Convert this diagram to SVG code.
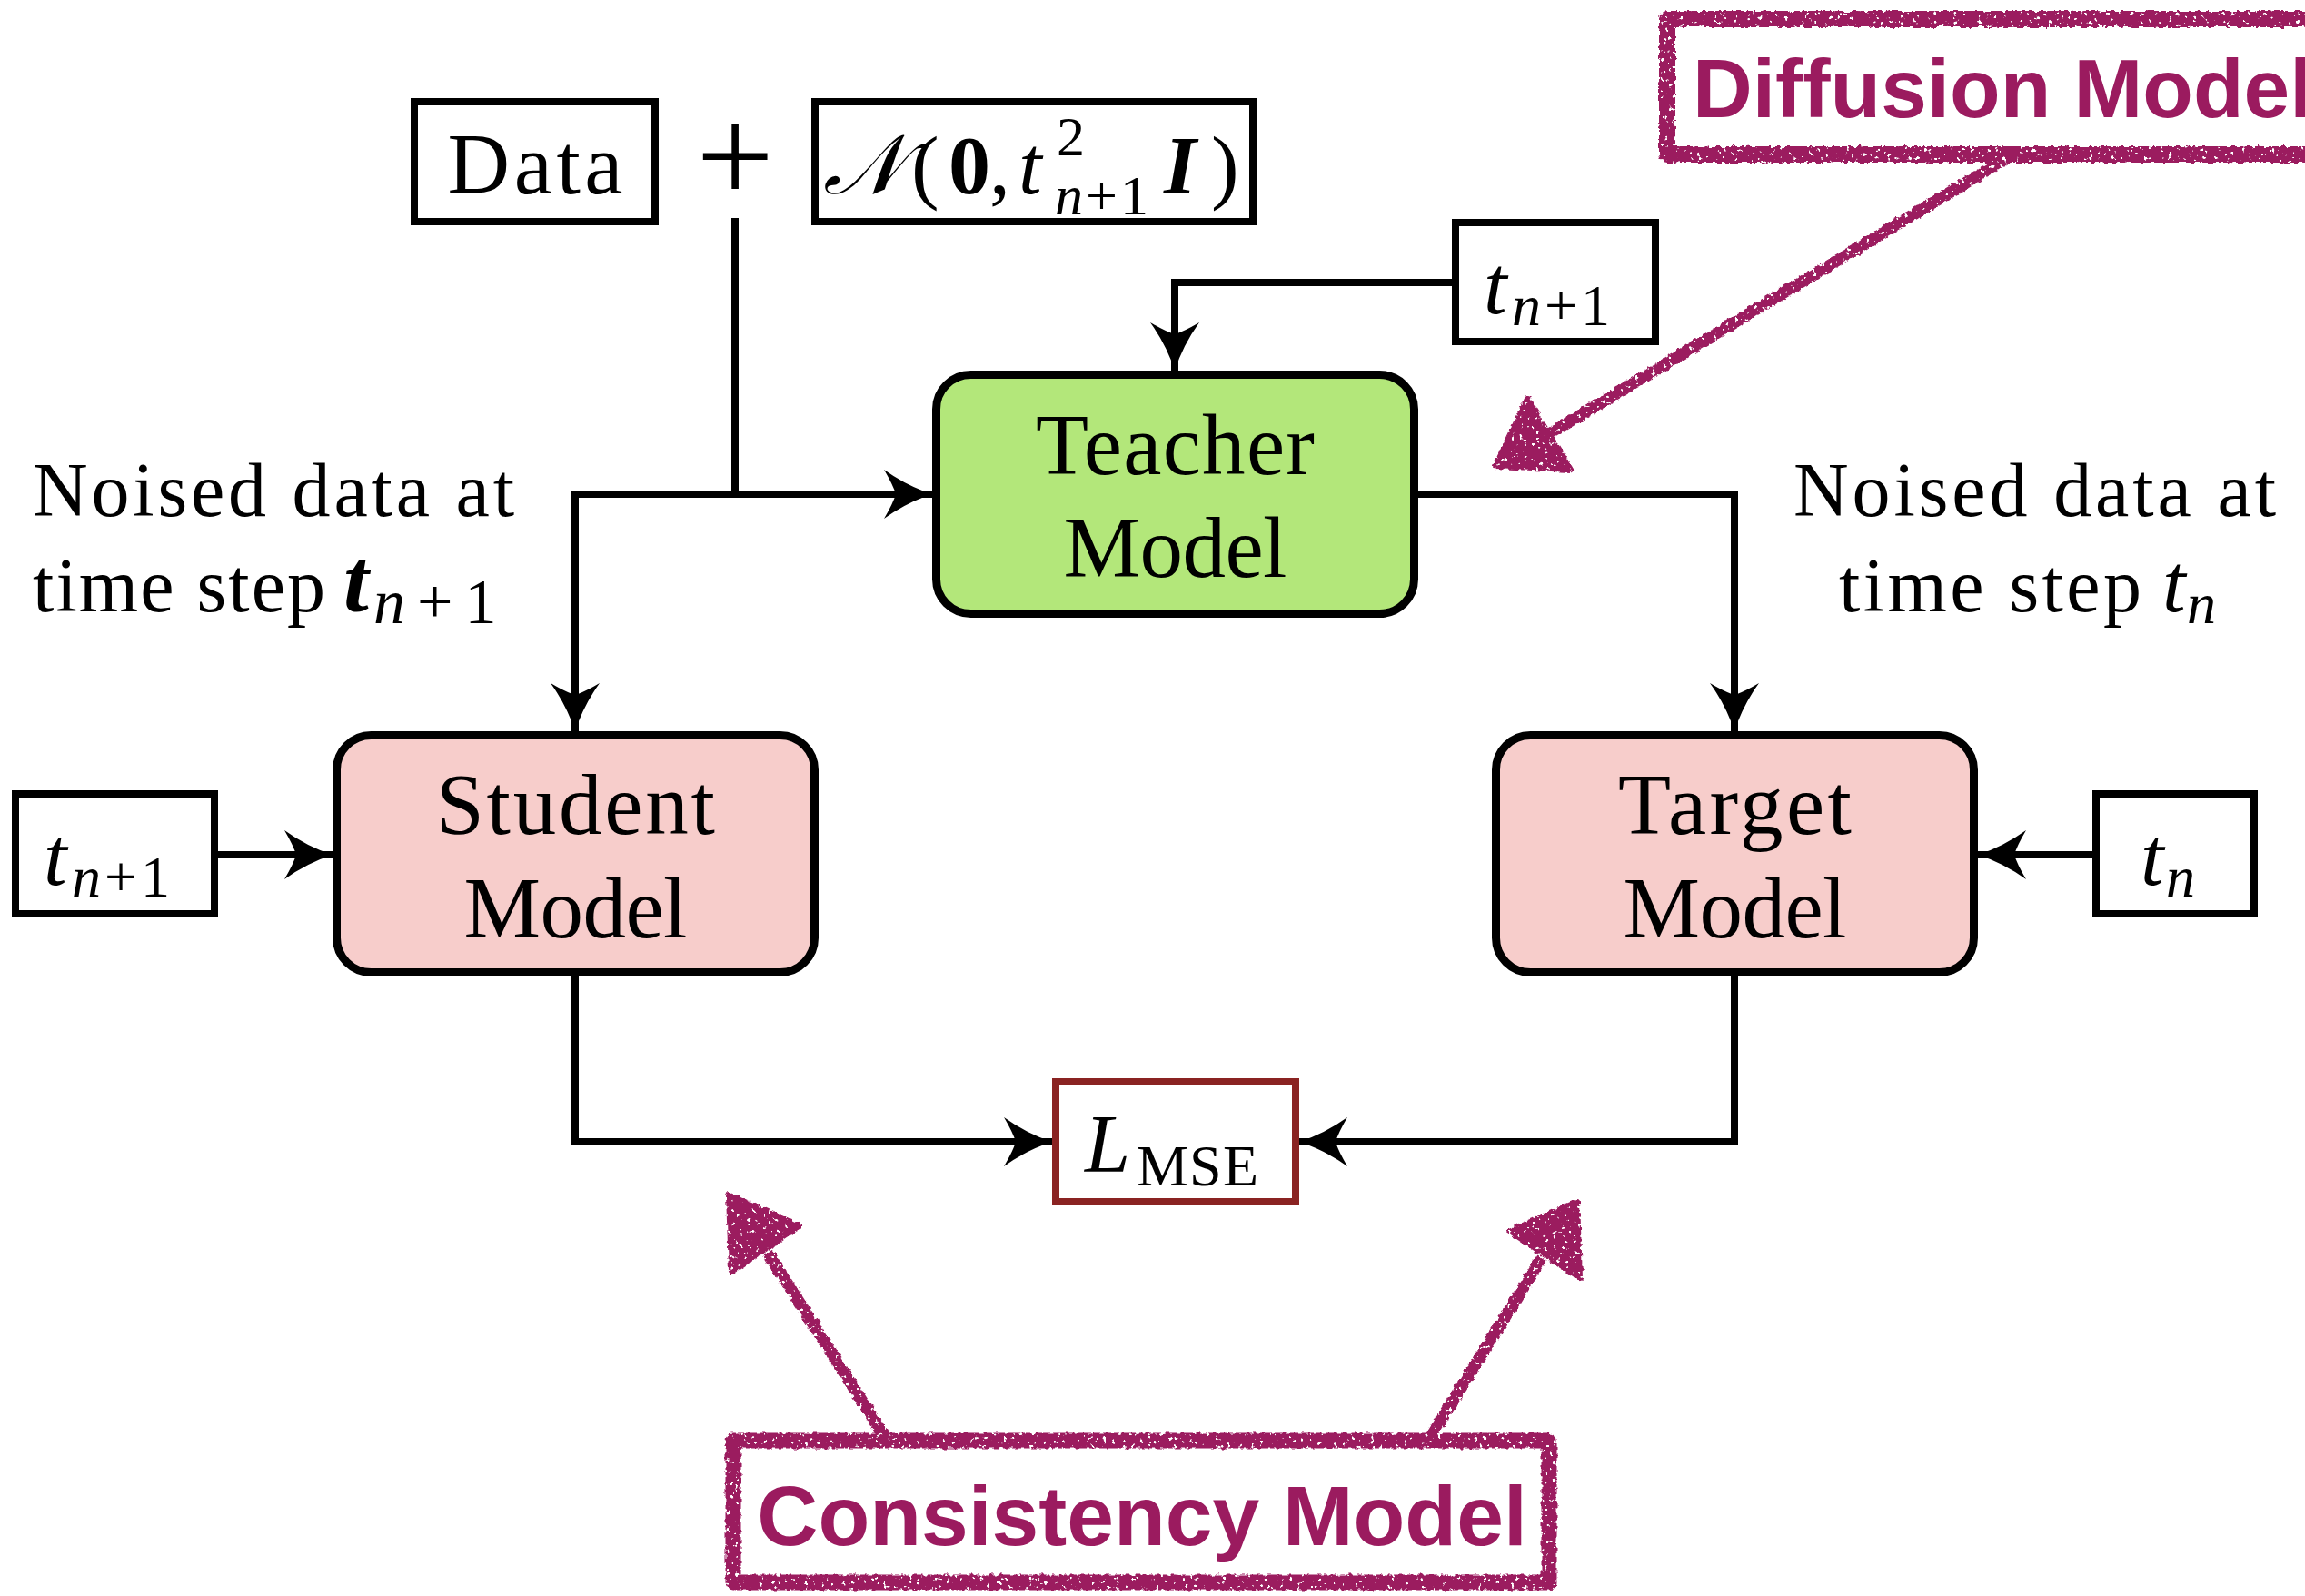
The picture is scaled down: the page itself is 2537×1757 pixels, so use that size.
<svg xmlns="http://www.w3.org/2000/svg" width="2537" height="1757" viewBox="0 0 2537 1757">
  <style>
    .box { fill: #ffffff; stroke: #000000; stroke-width: 8; }
    .model { stroke: #000000; stroke-width: 9; }
    .teacher { fill: #b3e77a; }
    .pink { fill: #f7cdcb; }
    .loss { fill: #ffffff; stroke: #8a2322; stroke-width: 8; }
    .wire { fill: none; stroke: #000000; stroke-width: 8; }
    .serif { font-family: "Liberation Serif", "Times New Roman", serif; fill: #000000; }
    .lbl { font-size: 95px; text-anchor: middle; }
    .note { font-size: 84px; }
    .it { font-style: italic; }
    .bf { font-weight: bold; }
    .ann { font-family: "Liberation Sans", Arial, sans-serif; font-weight: bold; fill: #9b1b5f; }
    .chalk { fill: #9b1b5f; stroke: #9b1b5f; stroke-linejoin: round; }
  </style>
  <defs>
    <marker id="head" markerUnits="userSpaceOnUse" viewBox="-56 -30 60 60" markerWidth="60" markerHeight="60" refX="0" refY="0" orient="auto-start-reverse" overflow="visible">
      <path d="M0,0 Q-28,-9 -53,-27 Q-43,-10 -40,0 Q-43,10 -53,27 Q-28,9 0,0 Z" fill="#000000"/>
    </marker>
    <!-- crayon look: wobbly edges plus sparse white flecks -->
    <filter id="rough" filterUnits="userSpaceOnUse" x="0" y="0" width="2537" height="1757">
      <feTurbulence type="fractalNoise" baseFrequency="0.18" numOctaves="2" seed="7" result="warp"/>
      <feDisplacementMap in="SourceGraphic" in2="warp" scale="6" xChannelSelector="R" yChannelSelector="G" result="wobbly"/>
      <feTurbulence type="fractalNoise" baseFrequency="0.22" numOctaves="2" seed="3" result="grain"/>
      <feColorMatrix in="grain" type="matrix" values="0 0 0 0 0  0 0 0 0 0  0 0 0 0 0  -16 0 0 0 11.6" result="holes"/>
      <feComposite in="wobbly" in2="holes" operator="in"/>
    </filter>
  </defs>

  <rect width="2537" height="1757" fill="#ffffff"/>

  <!-- connectors -->
  <g id="connectors">
    <path class="wire" d="M809,240 V544"/>
    <path class="wire" d="M1026,544 H633 V805" marker-end="url(#head)"/>
    <path class="wire" d="M633,544 H1026" marker-end="url(#head)"/>
    <path class="wire" d="M1598,311 H1293 V408" marker-end="url(#head)"/>
    <path class="wire" d="M1561,544 H1909 V805" marker-end="url(#head)"/>
    <path class="wire" d="M240,941 H366" marker-end="url(#head)"/>
    <path class="wire" d="M2303,941 H2177" marker-end="url(#head)"/>
    <path class="wire" d="M633,1075 V1257 H1158" marker-end="url(#head)"/>
    <path class="wire" d="M1909,1075 V1257 H1430" marker-end="url(#head)"/>
  </g>

  <!-- inputs -->
  <g id="data">
    <rect class="box" x="456" y="112" width="265" height="132"/>
    <text class="serif lbl" x="589" y="213" textLength="193">Data</text>
  </g>
  <g id="plus">
    <text class="serif" x="809" y="223" font-size="152" text-anchor="middle">+</text>
  </g>
  <g id="noise">
    <rect class="box" x="897" y="112" width="482" height="132"/>
    <g class="serif" font-size="92">
      <text class="it" x="906" y="213">𝒩</text>
      <text x="1003" y="213">(</text>
      <text class="bf" x="1044" y="213">0</text>
      <text x="1089" y="213">,</text>
      <text class="it" x="1121" y="213">t</text>
      <text x="1163" y="171" font-size="62">2</text>
      <text x="1161" y="236" font-size="62"><tspan class="it">n</tspan><tspan dx="3">+</tspan><tspan dx="3">1</tspan></text>
      <text class="it bf" x="1281" y="213">I</text>
      <text x="1333" y="213">)</text>
    </g>
  </g>
  <g id="t-teacher">
    <rect class="box" x="1602" y="245" width="220" height="131"/>
    <text class="serif it" x="1633" y="345" font-size="92">t</text>
    <text class="serif" x="1664" y="358" font-size="64"><tspan class="it">n</tspan><tspan dx="4">+</tspan><tspan dx="4">1</tspan></text>
  </g>
  <g id="t-student">
    <rect class="box" x="17" y="874" width="219" height="132"/>
    <text class="serif it" x="48" y="974" font-size="92">t</text>
    <text class="serif" x="79" y="987" font-size="64"><tspan class="it">n</tspan><tspan dx="4">+</tspan><tspan dx="4">1</tspan></text>
  </g>
  <g id="t-target">
    <rect class="box" x="2307" y="874" width="174" height="132"/>
    <text class="serif it" x="2356" y="974" font-size="92">t</text>
    <text class="serif it" x="2384" y="987" font-size="64">n</text>
  </g>

  <!-- models -->
  <g id="teacher">
    <rect class="model teacher" x="1030.5" y="412.5" width="526" height="263" rx="38"/>
    <text class="serif lbl" x="1293.5" y="522" textLength="307">Teacher</text>
    <text class="serif lbl" x="1293.5" y="635" textLength="246">Model</text>
  </g>
  <g id="student">
    <rect class="model pink" x="370.5" y="809.5" width="526" height="261" rx="38"/>
    <text class="serif lbl" x="633.5" y="918" textLength="307">Student</text>
    <text class="serif lbl" x="633.5" y="1032" textLength="246">Model</text>
  </g>
  <g id="target">
    <rect class="model pink" x="1646.5" y="809.5" width="526" height="261" rx="38"/>
    <text class="serif lbl" x="1909.5" y="918" textLength="257">Target</text>
    <text class="serif lbl" x="1909.5" y="1032" textLength="246">Model</text>
  </g>

  <g id="loss">
    <rect class="loss" x="1162" y="1191" width="264" height="132"/>
    <text class="serif it" x="1194" y="1290" font-size="90" fill="#8a2322">L</text>
    <text class="serif" x="1251" y="1305" font-size="64" fill="#8a2322" textLength="134">MSE</text>
  </g>

  <!-- side notes -->
  <g id="note-left" class="serif note">
    <text x="36" y="568" textLength="530">Noised data at</text>
    <text x="36" y="673" textLength="322">time step</text>
    <text class="it bf" x="378" y="673" font-size="100">t</text>
    <text x="411" y="686" font-size="70"><tspan class="it">n</tspan><tspan dx="13">+</tspan><tspan dx="13">1</tspan></text>
  </g>
  <g id="note-right" class="serif note">
    <text x="1974" y="568" textLength="531">Noised data at</text>
    <text x="2024" y="673" textLength="333">time step</text>
    <text class="it" x="2380" y="673" font-size="92">t</text>
    <text class="it" x="2407" y="686" font-size="64">n</text>
  </g>

  <!-- hand-drawn callouts -->
  <g id="diffusion-callout">
    <g class="chalk" filter="url(#rough)">
      <rect x="1835" y="21" width="760" height="149" fill="none" stroke-width="18"/>
      <line x1="2209" y1="174" x2="1700" y2="481" stroke-width="13"/>
      <polygon points="1646,513 1681,439 1729,517" stroke-width="6"/>
    </g>
    <text class="ann" x="1863" y="129" font-size="91">Diffusion Model</text>
  </g>
  <g id="consistency-callout">
    <g class="chalk" filter="url(#rough)">
      <rect x="807" y="1586" width="898" height="156" fill="none" stroke-width="17"/>
      <line x1="974" y1="1582" x2="845" y2="1379" stroke-width="13"/>
      <polygon points="802,1315 880,1350 805,1400" stroke-width="6"/>
      <line x1="1574" y1="1582" x2="1697" y2="1385" stroke-width="13"/>
      <polygon points="1736,1323 1661,1355 1739,1407" stroke-width="6"/>
    </g>
    <text class="ann" x="1257" y="1701" font-size="93" text-anchor="middle">Consistency Model</text>
  </g>
</svg>
